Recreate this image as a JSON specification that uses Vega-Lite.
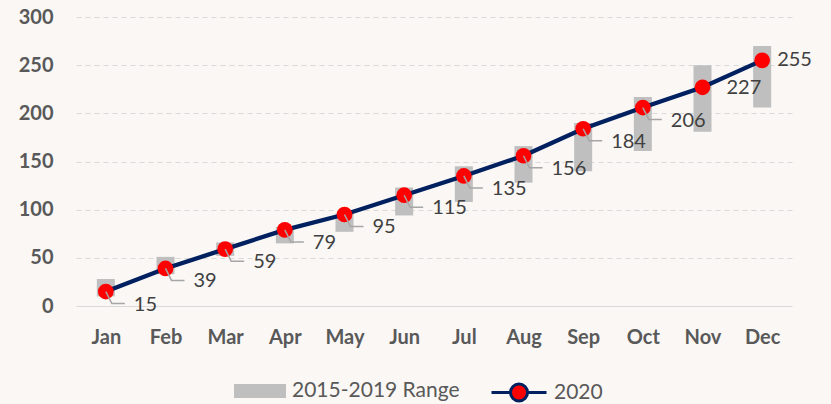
{
  "$schema": "https://vega.github.io/schema/vega-lite/v6.json",
  "width": 716,
  "height": 289,
  "autosize": {"type": "none"},
  "padding": {"left": 76, "top": 17, "right": 39, "bottom": 98},
  "background": "#faf7f5",
  "config": {
    "view": {"stroke": null},
    "font": "Lato",
    "legend": {
      "direction": "horizontal",
      "labelFont": "Lato",
      "labelFontSize": 21,
      "labelColor": "#595959",
      "labelOffset": 6,
      "labelLimit": 400
    }
  },
  "data": {
    "values": [
      {"month": "Jan", "value": 15, "low": 10, "high": 28},
      {"month": "Feb", "value": 39, "low": 33, "high": 51},
      {"month": "Mar", "value": 59, "low": 52, "high": 66},
      {"month": "Apr", "value": 79, "low": 65, "high": 82},
      {"month": "May", "value": 95, "low": 77, "high": 96},
      {"month": "Jun", "value": 115, "low": 94, "high": 123},
      {"month": "Jul", "value": 135, "low": 108, "high": 145},
      {"month": "Aug", "value": 156, "low": 128, "high": 166},
      {"month": "Sep", "value": 184, "low": 140, "high": 190},
      {"month": "Oct", "value": 206, "low": 161, "high": 217},
      {"month": "Nov", "value": 227, "low": 181, "high": 250},
      {"month": "Dec", "value": 255, "low": 206, "high": 270}
    ]
  },
  "encoding": {
    "x": {
      "field": "month",
      "type": "ordinal",
      "sort": null,
      "title": null,
      "scale": {"type": "point", "padding": 0.5},
      "axis": {
        "labelAngle": 0,
        "labelFont": "Lato",
        "labelFontWeight": "bold",
        "labelFontSize": 20,
        "labelColor": "#595959",
        "labelPadding": 21,
        "domain": false,
        "ticks": false,
        "grid": false
      }
    }
  },
  "layer": [
    {
      "mark": {"type": "bar", "size": 18},
      "encoding": {
        "y": {
          "field": "low",
          "type": "quantitative",
          "title": null,
          "scale": {"domain": [0, 300], "nice": false},
          "axis": {
            "values": [0, 50, 100, 150, 200, 250, 300],
            "labelFont": "Lato",
            "labelFontWeight": "bold",
            "labelFontSize": 20,
            "labelColor": "#595959",
            "labelPadding": 23,
            "domain": false,
            "ticks": false,
            "gridColor": "#d9d9d9",
            "gridWidth": 1,
            "gridDash": {"condition": {"test": "datum.value === 0", "value": []}, "value": [5, 4]}
          }
        },
        "y2": {"field": "high"},
        "color": {
          "datum": "2015-2019 Range",
          "scale": {"range": ["#bfbfbf"]},
          "legend": {
            "title": null,
            "orient": "none",
            "legendX": 158,
            "legendY": 348,
            "symbolType": "M-1,-0.27H1V0.27H-1Z",
            "symbolSize": 2704,
            "symbolStrokeWidth": 0
          }
        }
      }
    },
    {
      "mark": {"type": "line", "color": "#002060", "strokeWidth": 4.3},
      "encoding": {"y": {"field": "value", "type": "quantitative", "title": null}}
    },
    {
      "mark": {"type": "point", "filled": true, "shape": "circle", "size": 246, "opacity": 1, "stroke": "#002060", "strokeWidth": 0},
      "encoding": {
        "y": {"field": "value", "type": "quantitative", "title": null},
        "fill": {
          "datum": "2020",
          "scale": {"range": ["#ff0000"]},
          "legend": {
            "title": null,
            "orient": "none",
            "legendX": 414,
            "legendY": 346.5,
            "symbolType": "M-1,0H-0.31M0.31,0H1M-0.31,0A0.31,0.31 0 1,0 0.31,0A0.31,0.31 0 1,0 -0.31,0Z",
            "symbolSize": 3025,
            "symbolStrokeColor": "#002060",
            "symbolStrokeWidth": 3
          }
        }
      }
    },
    {
      "transform": [{"filter": "datum.month !== 'Nov' && datum.month !== 'Dec'"}],
      "mark": {"type": "point", "shape": "M0,0L0.3,0.6L0.95,0.6", "size": 1600, "filled": false, "color": "#a6a6a6", "strokeWidth": 1.5, "opacity": 1},
      "encoding": {"y": {"field": "value", "type": "quantitative", "title": null}}
    },
    {
      "transform": [{"filter": "datum.month !== 'Nov' && datum.month !== 'Dec'"}],
      "mark": {"type": "text", "align": "left", "baseline": "middle", "dx": 28, "dy": 13, "font": "Lato", "fontSize": 20, "color": "#404040"},
      "encoding": {
        "y": {"field": "value", "type": "quantitative", "title": null},
        "text": {"field": "value", "type": "quantitative"}
      }
    },
    {
      "transform": [{"filter": "datum.month === 'Nov'"}],
      "mark": {"type": "text", "align": "left", "baseline": "middle", "dx": 24, "dy": 1, "font": "Lato", "fontSize": 20, "color": "#404040"},
      "encoding": {
        "y": {"field": "value", "type": "quantitative", "title": null},
        "text": {"field": "value", "type": "quantitative"}
      }
    },
    {
      "transform": [{"filter": "datum.month === 'Dec'"}],
      "mark": {"type": "text", "align": "left", "baseline": "middle", "dx": 15, "dy": 0, "font": "Lato", "fontSize": 20, "color": "#404040"},
      "encoding": {
        "y": {"field": "value", "type": "quantitative", "title": null},
        "text": {"field": "value", "type": "quantitative"}
      }
    }
  ]
}
